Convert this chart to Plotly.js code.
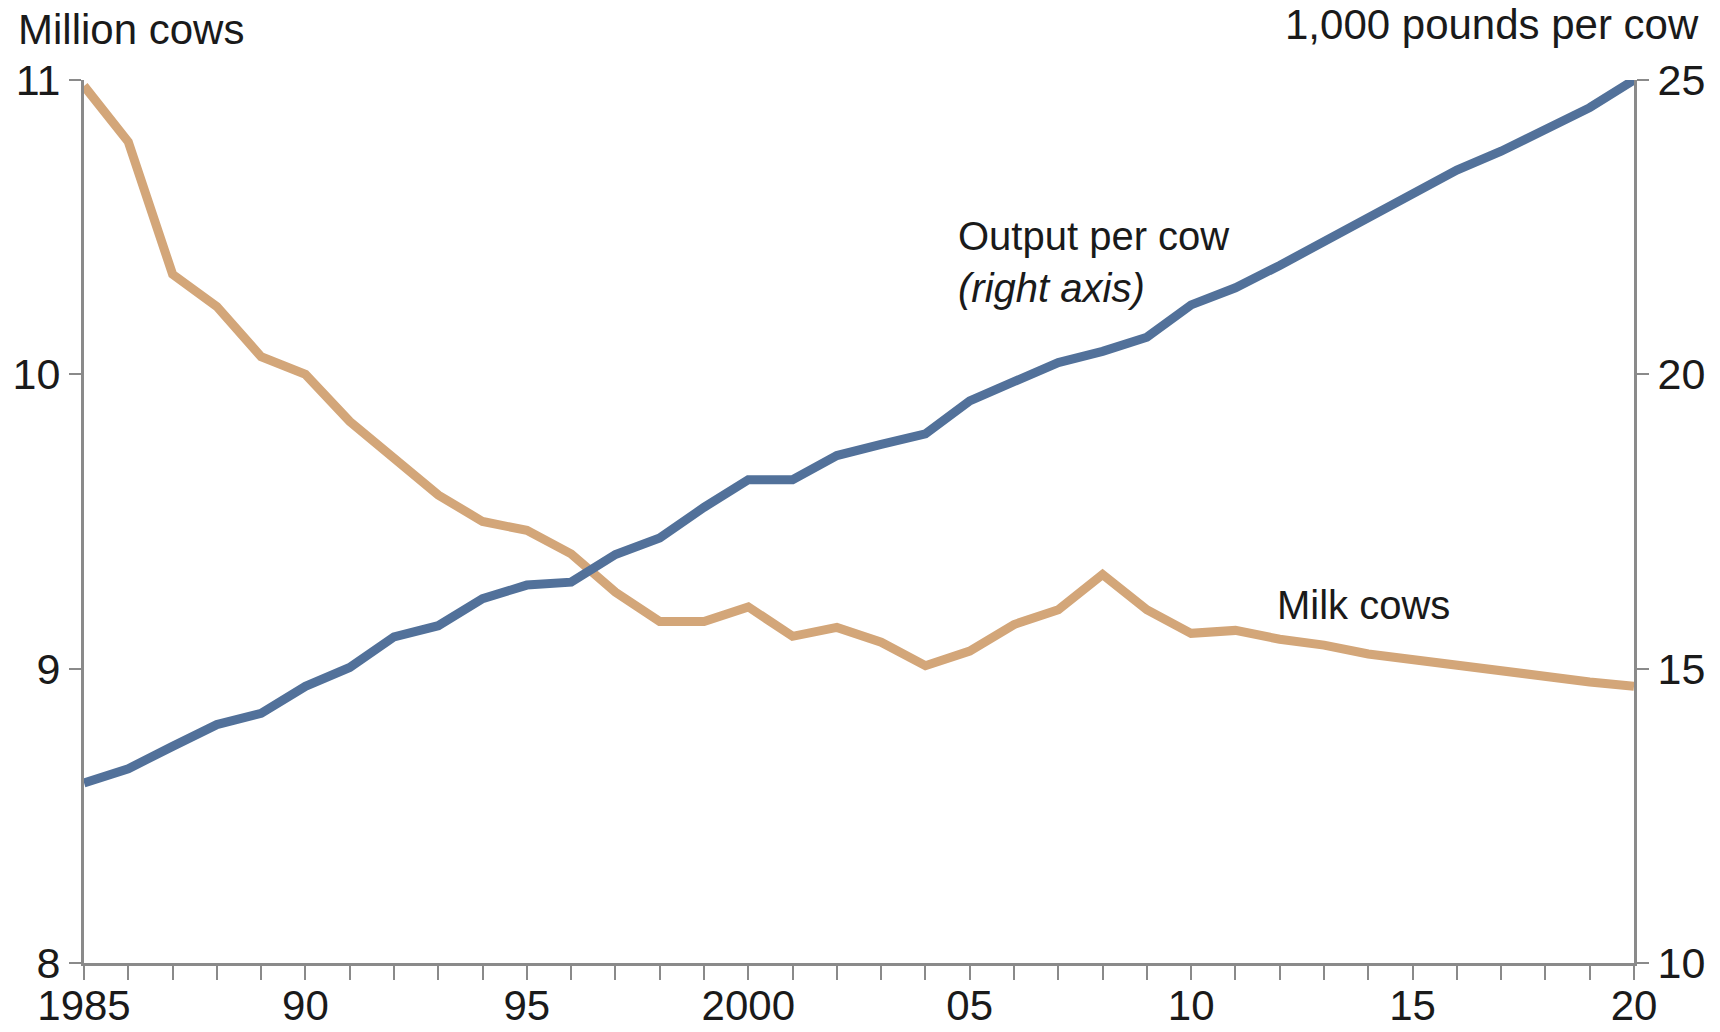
<!DOCTYPE html>
<html>
<head>
<meta charset="utf-8">
<script src="https://cdn.plot.ly/plotly-3.0.1.min.js"></script>
<style>
html,body{margin:0;padding:0;background:#fff;}
#chart{width:1720px;height:1032px;}
</style>
</head>
<body>
<div id="chart"></div>
<script>
const years = [1985,1986,1987,1988,1989,1990,1991,1992,1993,1994,1995,1996,1997,1998,1999,2000,2001,2002,2003,2004,2005,2006,2007,2008,2009,2010,2011,2012,2013,2014,2015,2016,2017,2018,2019,2020];
const milkCows = [10.98,10.79,10.34,10.23,10.06,10.0,9.84,9.71,9.59,9.50,9.47,9.39,9.26,9.16,9.16,9.21,9.11,9.14,9.09,9.01,9.06,9.15,9.20,9.32,9.20,9.12,9.13,9.10,9.08,9.05,9.03,9.01,8.99,8.97,8.955,8.94];
const outputPerCow = [13.06,13.3,13.68,14.05,14.24,14.70,15.02,15.54,15.73,16.19,16.42,16.47,16.94,17.22,17.74,18.21,18.21,18.62,18.81,18.99,19.55,19.89,20.2,20.39,20.63,21.18,21.47,21.85,22.26,22.67,23.06,23.47,23.79,24.16,24.53,25.0];
const xTickVals = [1985,1990,1995,2000,2005,2010,2015,2020];
const xTickText = ['1985','90','95','2000','05','10','15','20'];
const leftTicks = [8,9,10,11];
const rightTicks = [10,15,20,25];

const FONT = 'Liberation Sans, Arial, sans-serif';
const TXT = '#1a1a1a';
const AX = '#8a8a8a';

const traces = [
  {x: years, y: milkCows, type:'scatter', mode:'lines', name:'Milk cows',
   line:{color:'#d3a679', width:9}, yaxis:'y', hoverinfo:'skip'},
  {x: years, y: outputPerCow, type:'scatter', mode:'lines', name:'Output per cow',
   line:{color:'#52719a', width:9}, yaxis:'y2', hoverinfo:'skip'}
];

const layout = {
  width:1720, height:1032,
  margin:{l:84, r:86, t:80, b:69},
  paper_bgcolor:'#fff', plot_bgcolor:'#fff',
  showlegend:false,
  font:{family:FONT, color:TXT, size:43},
  xaxis:{
    range:[1985,2020], tickvals:xTickVals, ticktext:xTickText,
    showgrid:false, zeroline:false, showline:true, linecolor:AX, linewidth:3,
    ticks:'outside', ticklen:14, tickwidth:2, tickcolor:AX,
    minor:{dtick:1, ticks:'outside', ticklen:14, tickwidth:2, tickcolor:AX, showgrid:false},
    ticklabelstandoff:-10,
    tickfont:{family:FONT, size:42, color:TXT}, fixedrange:true
  },
  yaxis:{
    range:[8,11], tickvals:leftTicks, ticktext:leftTicks.map(String),
    showgrid:false, zeroline:false, showline:true, linecolor:AX, linewidth:3,
    ticks:'outside', ticklen:12, tickwidth:2, tickcolor:AX,
    tickfont:{family:FONT, size:43, color:TXT}, fixedrange:true
  },
  yaxis2:{
    range:[10,25], tickvals:rightTicks, ticktext:rightTicks.map(String),
    overlaying:'y', side:'right',
    showgrid:false, zeroline:false, showline:true, linecolor:AX, linewidth:3,
    ticks:'outside', ticklen:12, tickwidth:2, tickcolor:AX,
    tickfont:{family:FONT, size:43, color:TXT}, fixedrange:true
  },
  annotations:[
    {text:'Million cows', xref:'paper', yref:'paper', x:-0.044, y:1.057, xanchor:'left', yanchor:'middle',
     showarrow:false, font:{family:FONT, size:42, color:TXT}},
    {text:'1,000 pounds per cow', xref:'paper', yref:'paper', x:1.043, y:1.063, xanchor:'right', yanchor:'middle',
     showarrow:false, font:{family:FONT, size:42, color:TXT}},
    {text:'Output per cow', xref:'x', yref:'y', x:2004.7, y:10.47, xanchor:'left', yanchor:'middle',
     showarrow:false, font:{family:FONT, size:40, color:TXT}},
    {text:'<i>(right axis)</i>', xref:'x', yref:'y', x:2004.7, y:10.293, xanchor:'left', yanchor:'middle',
     showarrow:false, font:{family:FONT, size:40, color:TXT}},
    {text:'Milk cows', xref:'x', yref:'y', x:2011.9, y:9.216, xanchor:'left', yanchor:'middle',
     showarrow:false, font:{family:FONT, size:40, color:TXT}}
  ]
};

Plotly.newPlot('chart', traces, layout, {staticPlot:true, displayModeBar:false});
</script>
</body>
</html>
